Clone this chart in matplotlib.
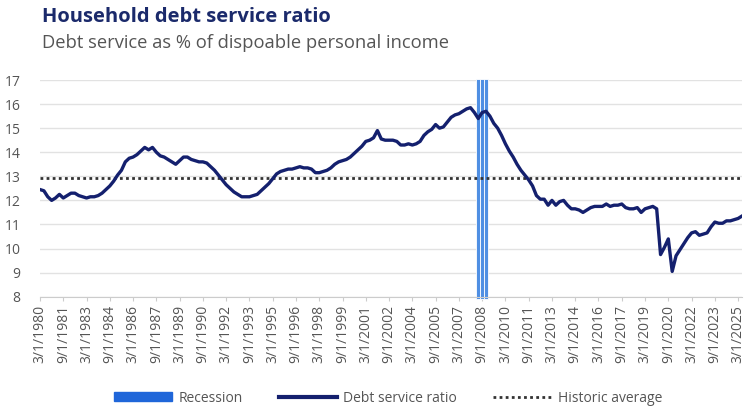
import matplotlib.pyplot as plt
import matplotlib.patches as mpatches
import matplotlib.lines as mlines
import numpy as np
import pandas as pd

plt.rcParams['font.family'] = ['Open Sans', 'DejaVu Sans']

# quarterly debt service ratio, starting 3/1/1980
dsr = [12.45, 12.4, 12.15, 12.0, 12.1, 12.25, 12.1, 12.2, 12.3, 12.3,
       12.2, 12.15, 12.1, 12.15, 12.15, 12.2, 12.3, 12.45, 12.6, 12.8,
       13.05, 13.25, 13.6, 13.75, 13.8, 13.9, 14.05, 14.2, 14.1, 14.2,
       14.0, 13.85, 13.8, 13.7, 13.6, 13.5, 13.65, 13.8, 13.8, 13.7,
       13.65, 13.6, 13.6, 13.55, 13.4, 13.25, 13.05, 12.85, 12.65, 12.5,
       12.35, 12.25, 12.15, 12.15, 12.15, 12.2, 12.25, 12.4, 12.55, 12.7,
       12.9, 13.1, 13.2, 13.25, 13.3, 13.3, 13.35, 13.4, 13.35, 13.35,
       13.3, 13.15, 13.15, 13.2, 13.25, 13.35, 13.5, 13.6, 13.65, 13.7,
       13.8, 13.95, 14.1, 14.25, 14.45, 14.5, 14.6, 14.9, 14.55, 14.5,
       14.5, 14.5, 14.45, 14.3, 14.3, 14.35, 14.3, 14.35, 14.45, 14.7,
       14.85, 14.95, 15.15, 15.0, 15.05, 15.25, 15.45, 15.55, 15.6, 15.7,
       15.8, 15.85, 15.65, 15.4, 15.65, 15.7, 15.5, 15.2, 15.0, 14.7,
       14.35, 14.05, 13.8, 13.5, 13.25, 13.05, 12.85, 12.6, 12.2, 12.05,
       12.05, 11.8, 12.0, 11.8, 11.95, 12.0, 11.8, 11.65, 11.65, 11.6,
       11.5, 11.6, 11.7, 11.75, 11.75, 11.75, 11.85, 11.75, 11.8, 11.8,
       11.85, 11.7, 11.65, 11.65, 11.7, 11.5, 11.65, 11.7, 11.75, 11.65,
       9.75, 10.05, 10.4, 9.05, 9.7, 9.95, 10.2, 10.45, 10.65, 10.7,
       10.55, 10.6, 10.65, 10.9, 11.1, 11.05, 11.05, 11.15, 11.15, 11.2,
       11.25, 11.35]
historic_avg = 12.93
recession = ['2008-06-01', '2008-09-01', '2008-12-01']

dates = pd.date_range('1980-03-01', periods=len(dsr), freq='3MS')
x = np.arange(len(dsr))
rec_x = [dates.get_loc(pd.Timestamp(d)) for d in recession]

fig = plt.figure(figsize=(7.45, 4.13), dpi=100)
ax = fig.add_axes([40/745, 1-296.7/413, 702/745, (296.7-80)/413])

ax.set_ylim(8, 17)
ax.set_xlim(0, len(dsr)-1)
ax.set_yticks(range(8, 18))
ax.grid(axis='y', color='#e2e2e2', lw=1)
ax.set_axisbelow(True)

ax.bar(rec_x, 9.15, bottom=7.9, width=0.95, color='#4f8fe3',
       edgecolor='white', linewidth=0.6, clip_on=False, zorder=2)
ax.axhline(historic_avg, color='#333333', lw=2, linestyle=(0, (1, 1.2)), zorder=3)
ax.plot(x, dsr, color='#14206e', lw=2.4, zorder=4, solid_joinstyle='round')

ticks = x[::6]
ax.set_xticks(ticks)
ax.set_xticklabels([f"{d.month}/1/{d.year}" for d in dates[::6]], rotation=90)
ax.tick_params(axis='x', length=3, color='#cccccc', labelsize=10,
               labelcolor='#555555', pad=3)
ax.tick_params(axis='y', length=0, labelsize=10, labelcolor='#555555', pad=14)
for s in ['top', 'right', 'left']:
    ax.spines[s].set_visible(False)
ax.spines['bottom'].set_color('#cccccc')

fig.text(42/745, 1-17/413, 'Household debt service ratio', fontsize=14.5,
         weight='bold', color='#1b2a6b', va='center')
fig.text(42/745, 1-43/413, 'Debt service as % of dispoable personal income',
         fontsize=13.2, color='#555555', va='center')

handles = [mpatches.Patch(color='#1f66d9', label='Recession'),
           mlines.Line2D([], [], color='#14206e', lw=3, label='Debt service ratio'),
           mlines.Line2D([], [], color='#333333', lw=2, linestyle=(0, (1, 1.2)),
                         label='Historic average')]
leg = fig.legend(handles=handles, loc='center', ncol=3, frameon=False,
                 bbox_to_anchor=(388/745, 1-398/413), fontsize=10,
                 handlelength=4.2, columnspacing=2.6, handleheight=0.6,
                 handletextpad=0.45)
for t in leg.get_texts():
    t.set_color('#555555')

fig.savefig('out.png', dpi=100)
